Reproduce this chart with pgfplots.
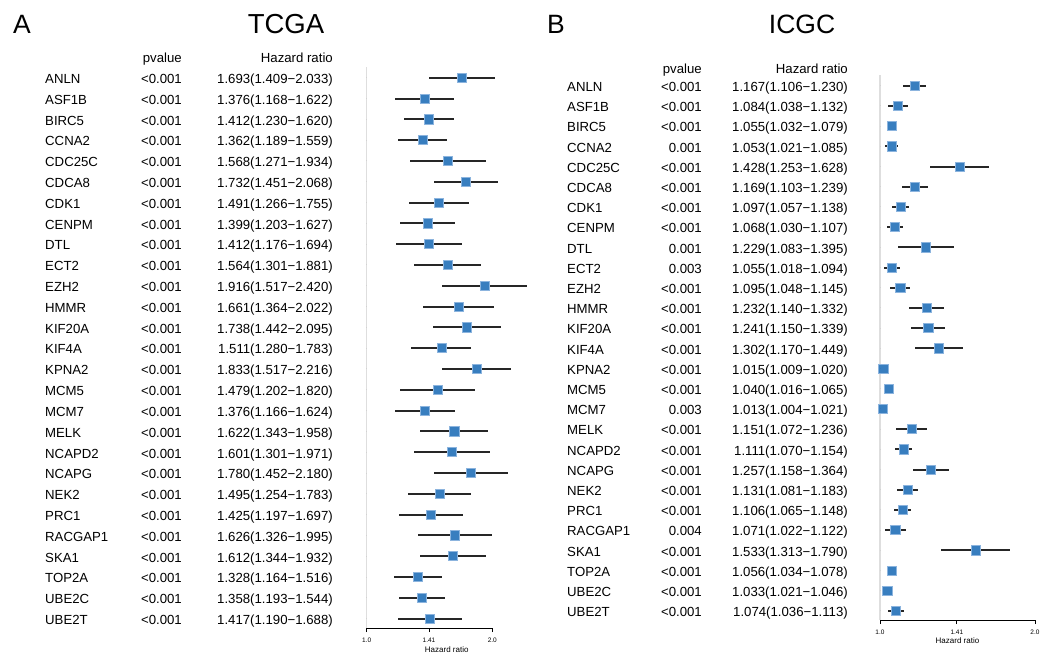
\documentclass[border=0pt]{standalone}
\usepackage{pgfplots}
\pgfplotsset{compat=1.18}
\usepackage{pgfplotstable}
\usepackage{fontspec}
\setmainfont{Liberation Sans}

\definecolor{boxblue}{RGB}{56,126,191}
\definecolor{boxedge}{RGB}{140,180,222}
\definecolor{vline}{RGB}{222,222,222}

% row gene pvalue HR lower upper
\pgfplotstableread{
row gene p hr lo hi
1 ANLN <0.001 1.693 1.409 2.033
2 ASF1B <0.001 1.376 1.168 1.622
3 BIRC5 <0.001 1.412 1.230 1.620
4 CCNA2 <0.001 1.362 1.189 1.559
5 CDC25C <0.001 1.568 1.271 1.934
6 CDCA8 <0.001 1.732 1.451 2.068
7 CDK1 <0.001 1.491 1.266 1.755
8 CENPM <0.001 1.399 1.203 1.627
9 DTL <0.001 1.412 1.176 1.694
10 ECT2 <0.001 1.564 1.301 1.881
11 EZH2 <0.001 1.916 1.517 2.420
12 HMMR <0.001 1.661 1.364 2.022
13 KIF20A <0.001 1.738 1.442 2.095
14 KIF4A <0.001 1.511 1.280 1.783
15 KPNA2 <0.001 1.833 1.517 2.216
16 MCM5 <0.001 1.479 1.202 1.820
17 MCM7 <0.001 1.376 1.166 1.624
18 MELK <0.001 1.622 1.343 1.958
19 NCAPD2 <0.001 1.601 1.301 1.971
20 NCAPG <0.001 1.780 1.452 2.180
21 NEK2 <0.001 1.495 1.254 1.783
22 PRC1 <0.001 1.425 1.197 1.697
23 RACGAP1 <0.001 1.626 1.326 1.995
24 SKA1 <0.001 1.612 1.344 1.932
25 TOP2A <0.001 1.328 1.164 1.516
26 UBE2C <0.001 1.358 1.193 1.544
27 UBE2T <0.001 1.417 1.190 1.688
}\tcga

\pgfplotstableread{
row gene p hr lo hi
1 ANLN <0.001 1.167 1.106 1.230
2 ASF1B <0.001 1.084 1.038 1.132
3 BIRC5 <0.001 1.055 1.032 1.079
4 CCNA2 0.001 1.053 1.021 1.085
5 CDC25C <0.001 1.428 1.253 1.628
6 CDCA8 <0.001 1.169 1.103 1.239
7 CDK1 <0.001 1.097 1.057 1.138
8 CENPM <0.001 1.068 1.030 1.107
9 DTL 0.001 1.229 1.083 1.395
10 ECT2 0.003 1.055 1.018 1.094
11 EZH2 <0.001 1.095 1.048 1.145
12 HMMR <0.001 1.232 1.140 1.332
13 KIF20A <0.001 1.241 1.150 1.339
14 KIF4A <0.001 1.302 1.170 1.449
15 KPNA2 <0.001 1.015 1.009 1.020
16 MCM5 <0.001 1.040 1.016 1.065
17 MCM7 0.003 1.013 1.004 1.021
18 MELK <0.001 1.151 1.072 1.236
19 NCAPD2 <0.001 1.111 1.070 1.154
20 NCAPG <0.001 1.257 1.158 1.364
21 NEK2 <0.001 1.131 1.081 1.183
22 PRC1 <0.001 1.106 1.065 1.148
23 RACGAP1 0.004 1.071 1.022 1.122
24 SKA1 <0.001 1.533 1.313 1.790
25 TOP2A <0.001 1.056 1.034 1.078
26 UBE2C <0.001 1.033 1.021 1.046
27 UBE2T <0.001 1.074 1.036 1.113
}\icgc

\newcommand\rowfont{\fontsize{13.2}{15}\selectfont}
\newcommand\hrnum[1]{\pgfmathprintnumber[fixed, fixed zerofill, precision=3, assume math mode=true]{#1}}

% CI bars, boxes and the three text columns of one panel
% #1 table, #2 gene shift, #3 p shift, #4 HR shift, #5 header row
\newcommand\forestrows[5]{%
  \addplot[only marks, mark=none, error bars/.cd, x dir=both, x explicit,
    error mark=none, error bar style={draw=black!85, line width=2pt}]
    table[x=hr, y expr=-\thisrow{row},
      x error plus expr=\thisrow{hi}-\thisrow{hr},
      x error minus expr=\thisrow{hr}-\thisrow{lo}] {#1};
  \addplot[only marks, mark=square*, mark size=4.6pt,
    mark options={fill=boxblue, draw=boxedge, line width=0.7pt}]
    table[x=hr, y expr=-\thisrow{row}] {#1};
  \addplot[only marks, mark=*, mark size=0pt, mark options={draw=none, fill=none},
    nodes near coords, point meta=explicit symbolic,
    nodes near coords style={text=black, anchor=base west, xshift=#2, yshift=-5.8pt,
      font=\rowfont, inner sep=0pt}]
    table[x expr=1, y expr=-\thisrow{row}, meta=gene] {#1};
  \addplot[only marks, mark=*, mark size=0pt, mark options={draw=none, fill=none},
    nodes near coords, point meta=explicit symbolic,
    nodes near coords style={text=black, anchor=base east, xshift=#3, yshift=-5.8pt,
      font=\rowfont, inner sep=0pt}]
    table[x expr=1, y expr=-\thisrow{row}, meta=p] {#1};
  \addplot[only marks, mark=*, mark size=0pt, mark options={draw=none, fill=none},
    point meta=explicit symbolic,
    visualization depends on={\thisrow{lo}\as\ciLo},
    visualization depends on={\thisrow{hi}\as\ciHi},
    nodes near coords={\pgfplotspointmeta(\hrnum{\ciLo}−\hrnum{\ciHi})},
    nodes near coords style={text=black, anchor=base east, xshift=#4, yshift=-5.8pt,
      font=\rowfont, inner sep=0pt}]
    table[x expr=1, y expr=-\thisrow{row}, meta=hr] {#1};
  \node[anchor=base east, font=\rowfont, inner sep=0pt] at ([xshift=#3, yshift=-5.8pt]axis cs:1,#5) {pvalue};
  \node[anchor=base east, font=\rowfont, inner sep=0pt] at ([xshift=#4, yshift=-5.8pt]axis cs:1,#5) {Hazard ratio};
}

\begin{document}
\begin{tikzpicture}
\useasboundingbox (0,0) rectangle (1051pt,-653pt);

\node[anchor=base west, font=\fontsize{26.5}{30}\selectfont, inner sep=0pt] at (13pt,-33pt) {A};
\node[anchor=base, font=\fontsize{27.5}{30}\selectfont, inner sep=0pt] at (286pt,-33pt) {TCGA};
\node[anchor=base west, font=\fontsize{26.5}{30}\selectfont, inner sep=0pt] at (547pt,-33pt) {B};
\node[anchor=base, font=\fontsize{26.5}{30}\selectfont, inner sep=0pt] at (802pt,-33pt) {ICGC};

\begin{axis}[
  scale only axis,
  width=125.6pt, height=561.3pt,
  at={(366.7pt,-628pt)}, anchor=south west,
  xmode=log, xmin=1, xmax=2,
  ymin=-27.45, ymax=-0.47,
  clip=false,
  axis x line*=bottom, axis y line*=left,
  x axis line style={-, black, line width=0.8pt},
  y axis line style={-, draw=vline, line width=1.3pt},
  xtick={1,1.41,2}, xticklabels={1.0,1.41,2.0},
  minor xtick={}, ytick=\empty,
  tick align=outside, major tick length=4pt,
  xtick style={black, line width=0.8pt},
  xticklabel style={font=\fontsize{6.5}{7}\selectfont, anchor=center, yshift=-8.7pt},
  xlabel={Hazard ratio},
  xlabel style={at={(axis description cs:0.637,0)}, anchor=center, yshift=-21.3pt,
    font=\fontsize{8}{9}\selectfont},
]
\forestrows{\tcga}{-321.7pt}{-184.7pt}{-33.7pt}{0}
\end{axis}

\begin{axis}[
  scale only axis,
  width=155pt, height=545pt,
  at={(880pt,-620pt)}, anchor=south west,
  xmode=log, xmin=1, xmax=2,
  ymin=-27.45, ymax=-0.47,
  clip=false,
  axis x line*=bottom, axis y line*=left,
  x axis line style={-, black, line width=0.8pt},
  y axis line style={-, draw=vline, line width=1.3pt},
  xtick={1,1.41,2}, xticklabels={1.0,1.41,2.0},
  minor xtick={}, ytick=\empty,
  tick align=outside, major tick length=4pt,
  xtick style={black, line width=0.8pt},
  xticklabel style={font=\fontsize{6.5}{7}\selectfont, anchor=center, yshift=-8.7pt},
  xlabel={Hazard ratio},
  xlabel style={at={(axis description cs:0.5,0)}, anchor=center, yshift=-20.7pt,
    font=\fontsize{8}{9}\selectfont},
]
\forestrows{\icgc}{-313pt}{-178pt}{-32pt}{-0.1}
\end{axis}
\end{tikzpicture}
\end{document}
